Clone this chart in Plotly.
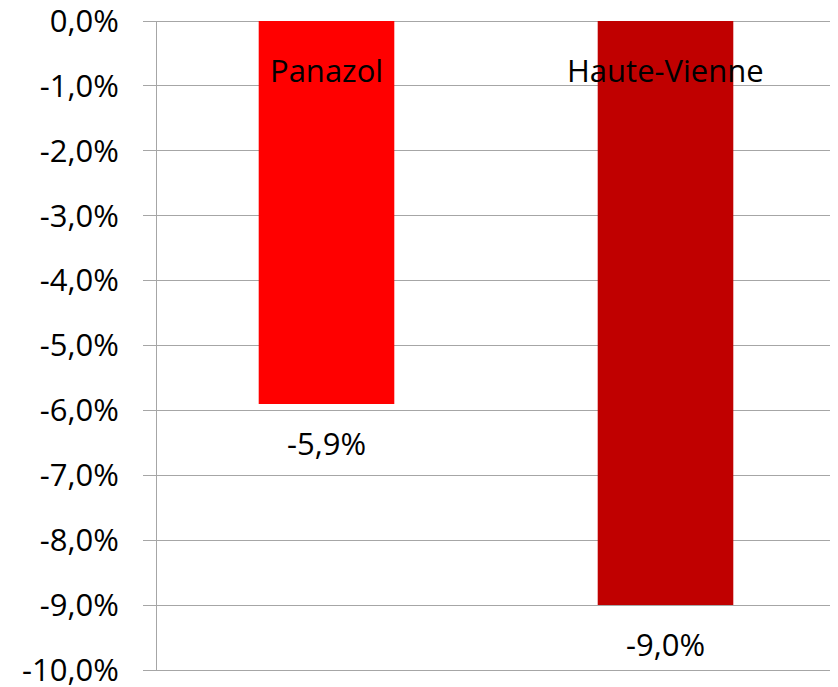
import plotly.graph_objects as go

categories = ["Panazol", "Haute-Vienne"]
values = [-5.9, -9.0]
value_labels = ["-5,9%", "-9,0%"]
bar_colors = ["#FF0000", "#C00000"]
tick_vals = [0, -1, -2, -3, -4, -5, -6, -7, -8, -9, -10]
tick_text = ["0,0%", "-1,0%", "-2,0%", "-3,0%", "-4,0%", "-5,0%",
             "-6,0%", "-7,0%", "-8,0%", "-9,0%", "-10,0%"]

FONT = "Open Sans"
FSIZE = 31
GRID = "#A6A6A6"

fig = go.Figure()
fig.add_trace(go.Bar(
    x=categories, y=values,
    marker=dict(color=bar_colors, line=dict(width=0)),
    cliponaxis=False,
))

for c, v, t in zip(categories, values, value_labels):
    fig.add_annotation(x=c, y=v, xref="x", yref="y", text=t, showarrow=False,
                       yanchor="middle", yshift=-39,
                       font=dict(family=FONT, size=FSIZE, color="#000000"))

for c in categories:
    fig.add_annotation(x=c, y=0, xref="x", yref="y", text=c, showarrow=False,
                       yanchor="middle", yshift=-49,
                       font=dict(family=FONT, size=FSIZE, color="#000000"))

fig.update_layout(
    width=830, height=679,
    margin=dict(l=149, r=3, t=13, b=17, autoexpand=False),
    paper_bgcolor="white", plot_bgcolor="white",
    bargap=0.6, showlegend=False,
    font=dict(family=FONT, size=FSIZE, color="#000000"),
)
fig.update_xaxes(showticklabels=False, showgrid=False, zeroline=False,
                 showline=True, linecolor=GRID, linewidth=1, ticks="",
                 automargin=False)
fig.update_yaxes(range=[-10, 0], tickvals=tick_vals, ticktext=tick_text,
                 showgrid=True, gridcolor=GRID, gridwidth=1,
                 zeroline=True, zerolinecolor=GRID, zerolinewidth=1,
                 showline=True, linecolor=GRID, linewidth=1,
                 ticks="outside", ticklen=13, tickcolor=GRID, tickwidth=1,
                 ticklabelstandoff=18, ticklabeloverflow="allow",
                 automargin=False,
                 tickfont=dict(family=FONT, size=FSIZE, color="#000000"))

fig.write_html("out.html")
